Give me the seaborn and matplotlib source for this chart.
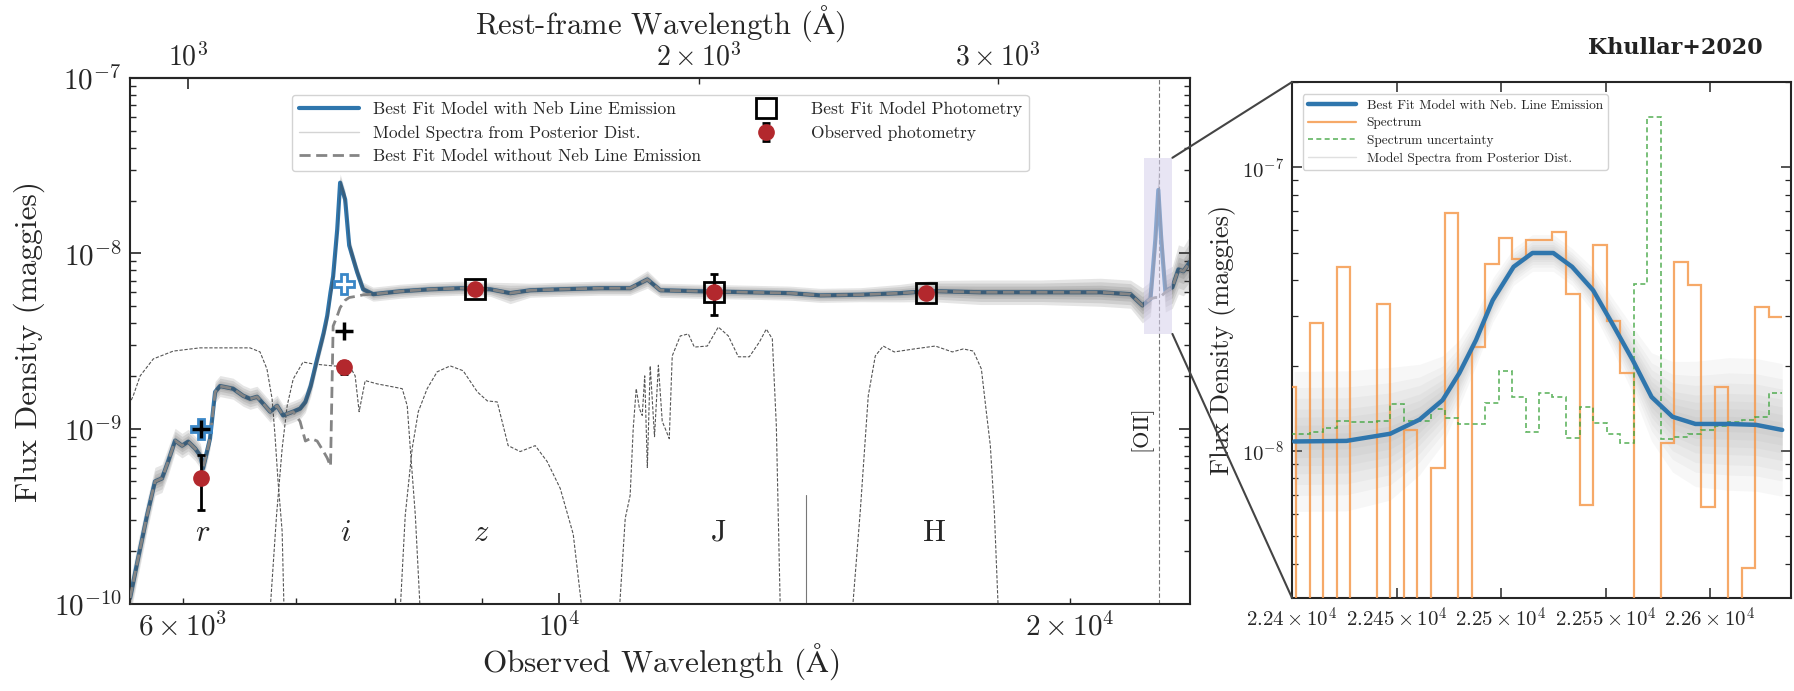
import numpy as np
import pandas as pd
import seaborn as sns
import matplotlib.pyplot as plt
from matplotlib.lines import Line2D
from matplotlib.patches import Rectangle, ConnectionPatch
from matplotlib.ticker import FixedLocator, FixedFormatter, NullLocator

# Redshift used to convert observed to rest-frame wavelength
redshift = 5.045

# Best fit SED (observed wavelength in A, flux density in maggies)
model_wave = [5587, 5648, 5717, 5779, 5834, 5883, 5939, 5995, 6045, 6103,
              6146, 6168, 6227, 6270, 6312, 6425, 6513, 6575, 6637, 6692,
              6756, 6820, 6876, 6970, 7036, 7087, 7138, 7201, 7264, 7300,
              7333, 7359, 7400, 7429, 7480, 7521, 7603, 7664, 7769, 8060,
              8395, 8742, 9106, 9357, 9615, 10014, 10573, 11011, 11270, 11470,
              12108, 12958, 13680, 14249, 15043, 15880, 16545, 17707, 19206, 20836,
              21704, 22058, 22300, 22450, 22540, 22630, 22755, 22972, 23163, 23318,
              23541]
model_flux = [1.08e-10, 1.82e-10, 3.2e-10, 5.0e-10, 5.2e-10, 6.5e-10, 8.55e-10, 8.0e-10, 8.43e-10, 7.7e-10,
              7.0e-10, 5.93e-10, 8.77e-10, 1.62e-9, 1.75e-9, 1.69e-9, 1.54e-9, 1.48e-9, 1.52e-9, 1.39e-9,
              1.25e-9, 1.35e-9, 1.19e-9, 1.25e-9, 1.30e-9, 1.42e-9, 1.75e-9, 2.5e-9, 3.5e-9, 4.4e-9,
              6.0e-9, 7.4e-9, 1.37e-8, 2.53e-8, 2.03e-8, 1.11e-8, 7.8e-9, 6.24e-9, 5.85e-9, 6.08e-9,
              6.24e-9, 6.33e-9, 6.24e-9, 5.93e-9, 6.16e-9, 6.24e-9, 6.33e-9, 6.33e-9, 7.1e-9, 6.16e-9,
              6.08e-9, 6.0e-9, 5.93e-9, 5.76e-9, 5.81e-9, 5.93e-9, 6.1e-9, 6.0e-9, 6.0e-9, 6.0e-9,
              5.85e-9, 5.05e-9, 5.5e-9, 1.2e-8, 2.3e-8, 1.2e-8, 6.1e-9, 6.4e-9, 8.1e-9, 7.9e-9,
              9.0e-9]
model_flux_noneb = [1.08e-10, 1.82e-10, 3.2e-10, 5.0e-10, 5.2e-10, 6.5e-10, 8.55e-10, 8.0e-10, 8.43e-10, 7.7e-10,
                    7.0e-10, 5.93e-10, 8.77e-10, 1.62e-9, 1.75e-9, 1.69e-9, 1.54e-9, 1.48e-9, 1.52e-9, 1.39e-9,
                    1.25e-9, 1.35e-9, 1.19e-9, 1.25e-9, 1.10e-9, 8.5e-10, 8.8e-10, 8.5e-10, 7.4e-10, 6.8e-10,
                    6.1e-10, 3.85e-9, 4.4e-9, 4.9e-9, 5.4e-9, 5.6e-9, 5.7e-9, 5.8e-9, 5.85e-9, 6.08e-9,
                    6.24e-9, 6.33e-9, 6.24e-9, 5.93e-9, 6.16e-9, 6.24e-9, 6.33e-9, 6.33e-9, 7.1e-9, 6.16e-9,
                    6.08e-9, 6.0e-9, 5.93e-9, 5.76e-9, 5.81e-9, 5.93e-9, 6.1e-9, 6.0e-9, 6.0e-9, 6.0e-9,
                    5.85e-9, 5.05e-9, 5.5e-9, 5.6e-9, 5.6e-9, 5.7e-9, 6.0e-9, 6.4e-9, 8.1e-9, 7.9e-9,
                    9.0e-9]
# half-width (dex) of the posterior model spectra around the best fit
model_spread = [0.10, 0.10, 0.09, 0.08, 0.08, 0.08, 0.07, 0.07, 0.07, 0.07,
                0.07, 0.07, 0.06, 0.06, 0.06, 0.06, 0.06, 0.06, 0.06, 0.06,
                0.06, 0.06, 0.06, 0.06, 0.06, 0.06, 0.06, 0.05, 0.05, 0.05,
                0.05, 0.05, 0.05, 0.05, 0.05, 0.05, 0.04, 0.04, 0.04, 0.04,
                0.04, 0.04, 0.04, 0.06, 0.04, 0.04, 0.04, 0.04, 0.05, 0.04,
                0.04, 0.04, 0.04, 0.04, 0.04, 0.05, 0.06, 0.07, 0.07, 0.08,
                0.08, 0.10, 0.10, 0.12, 0.12, 0.12, 0.12, 0.12, 0.14, 0.14,
                0.15]

# Photometry
phot_wave = [6150, 7473, 8924, 12337, 16437]
phot_flux = [5.25e-10, 2.24e-9, 6.3e-9, 6.05e-9, 5.93e-9]
phot_err = [1.8e-10, 2.0e-10, 3.0e-10, 1.6e-9, 3.0e-10]
model_phot_wave = [8924, 12337, 16437]
model_phot_flux = [6.3e-9, 6.05e-9, 5.93e-9]
neb_phot_wave = [6150, 7473]
neb_phot_flux = [1.0e-9, 6.66e-9]
noneb_phot_flux = [1.0e-9, 3.62e-9]

# Filter transmission curves (scaled into flux units)
filt_r_wave = [5580, 5611, 5664, 5766, 5924, 6142, 6574, 6664, 6727, 6774, 6801, 6829, 6867, 6885]
filt_r_flux = [1.37e-9, 1.54e-9, 2.0e-9, 2.5e-9, 2.77e-9, 2.89e-9, 2.89e-9, 2.74e-9, 2.19e-9, 1.48e-9,
               9.12e-10, 5.0e-10, 2.6e-10, 9e-11]
filt_i_wave = [6755, 6815, 6867, 6914, 6971, 7065, 7161, 7358, 7530, 7582, 7623, 7686, 7813, 7985,
               8082, 8137, 8171, 8227, 8282]
filt_i_flux = [9e-11, 3.2e-10, 7.7e-10, 1.35e-9, 1.92e-9, 2.4e-9, 2.34e-9, 2.28e-9, 2.25e-9, 2.0e-9,
               1.25e-9, 1.88e-9, 1.8e-9, 1.73e-9, 1.69e-9, 1.35e-9, 7.7e-10, 3.2e-10, 9e-11]
filt_z_wave = [8059, 8115, 8192, 8260, 8360, 8474, 8626, 8778, 8949, 9071, 9194, 9331, 9484, 9680,
               9838, 10014, 10192, 10318]
filt_z_flux = [9e-11, 3.2e-10, 7.7e-10, 1.25e-9, 1.69e-9, 2.11e-9, 2.28e-9, 2.14e-9, 1.62e-9, 1.44e-9,
               1.42e-9, 8.0e-10, 7.4e-10, 8.0e-10, 6.49e-10, 4.56e-10, 2.5e-10, 9e-11]
filt_J_wave = [10849, 10937, 11010, 11056, 11101, 11150, 11192, 11230, 11270, 11314, 11380, 11440,
               11500, 11547, 11610, 11657, 11785, 11914, 12012, 12225, 12409, 12579, 12751, 12942,
               13120, 13244, 13352, 13425, 13498]
filt_J_flux = [9e-11, 3.08e-10, 4.16e-10, 1.0e-9, 1.69e-9, 1.3e-9, 1.19e-9, 2.0e-9, 6.0e-10, 2.28e-9,
               9.0e-10, 2.3e-9, 1.1e-9, 1.0e-9, 8.77e-10, 2.6e-9, 3.38e-9, 3.47e-9, 2.92e-9, 2.96e-9,
               3.8e-9, 3.38e-9, 2.57e-9, 2.57e-9, 3.12e-9, 3.7e-9, 3.25e-9, 1.04e-9, 9e-11]
filt_H_wave = [14882, 15044, 15208, 15354, 15520, 15754, 16187, 16656, 17045, 17302, 17539, 17730,
               17849, 17947, 18044, 18143]
filt_H_flux = [9e-11, 3.38e-10, 1.54e-9, 2.6e-9, 2.96e-9, 2.74e-9, 2.85e-9, 2.96e-9, 2.74e-9, 2.85e-9,
               2.77e-9, 2.19e-9, 1.25e-9, 8.0e-10, 3.38e-10, 9e-11]
spike_wave = [13982, 13982]
spike_flux = [9e-11, 4.2e-10]

filter_names = ["$r$", "$i$", "$z$", "J", "H"]
filter_label_wave = [6168, 7481, 8995, 12409, 16634]
filter_label_flux = 2.53e-10

oii_wave = 22570
zoom_box_wave = [22118, 22975]
zoom_box_flux = [3.47e-9, 3.51e-8]

# Zoom panel: [OII] region
zoom_wave = [22401, 22426, 22447, 22461, 22472, 22480, 22488, 22496, 22506, 22515, 22525,
             22534, 22544, 22553, 22563, 22572, 22582, 22593, 22609, 22622, 22634.5]
zoom_flux = [1.08e-8, 1.085e-8, 1.15e-8, 1.29e-8, 1.51e-8, 1.88e-8, 2.46e-8, 3.40e-8, 4.46e-8,
             4.99e-8, 4.99e-8, 4.46e-8, 3.69e-8, 2.83e-8, 2.09e-8, 1.55e-8, 1.32e-8, 1.245e-8,
             1.245e-8, 1.236e-8, 1.186e-8]
zoom_spread = [0.19, 0.19, 0.18, 0.15, 0.12, 0.09, 0.07, 0.06, 0.05, 0.05, 0.05,
               0.05, 0.06, 0.07, 0.09, 0.12, 0.15, 0.17, 0.18, 0.18, 0.18]

spec_edges = [22395.4, 22401.9, 22408.4, 22414.8, 22421.3, 22427.7, 22434.2, 22440.7, 22447.1,
              22453.6, 22460.0, 22466.5, 22473.0, 22479.4, 22485.9, 22492.3, 22498.8, 22505.3,
              22511.7, 22518.2, 22524.6, 22531.1, 22537.6, 22544.0, 22550.5, 22556.9, 22563.4,
              22569.9, 22576.3, 22582.8, 22589.2, 22595.7, 22602.2, 22608.6, 22615.1, 22621.5,
              22628.0, 22634.5]
spec_flux = [1.68e-8, 1e-9, 2.82e-8, 1e-9, 4.46e-8, 1e-9, 1e-9, 3.29e-8, 1e-9, 1.186e-8,
             1e-9, 8.68e-9, 6.92e-8, 1e-9, 2.33e-8, 4.58e-8, 5.65e-8, 4.74e-8, 5.55e-8, 5.55e-8,
             5.92e-8, 3.57e-8, 6.45e-9, 5.34e-8, 2.88e-8, 1.88e-8, 1e-9, 1e-9, 1.07e-8, 4.65e-8,
             3.85e-8, 6.34e-9, 1.68e-8, 1e-9, 3.86e-9, 3.22e-8, 2.97e-8]
spec_unc = [1.15e-8, 1.15e-8, 1.17e-8, 1.20e-8, 1.28e-8, 1.26e-8, 1.26e-8, 1.28e-8, 1.46e-8, 1.28e-8,
            1.28e-8, 1.41e-8, 1.31e-8, 1.24e-8, 1.24e-8, 1.48e-8, 1.91e-8, 1.55e-8, 1.17e-8, 1.60e-8,
            1.55e-8, 1.11e-8, 1.43e-8, 1.25e-8, 1.15e-8, 1.07e-8, 3.89e-8, 1.50e-7, 1.10e-8, 1.12e-8,
            1.15e-8, 1.19e-8, 1.22e-8, 1.26e-8, 1.29e-8, 1.32e-8, 1.60e-8]
zoom_xticks = [22400, 22450, 22500, 22550, 22600]
zoom_xticklabels = [r"$2.24\times10^{4}$", r"$2.245\times10^{4}$", r"$2.25\times10^{4}$",
                    r"$2.255\times10^{4}$", r"$2.26\times10^{4}$"]

# Style
sns.set_style("ticks")
plt.rcParams["font.family"] = ["cmr10", "DejaVu Serif"]
plt.rcParams["mathtext.fontset"] = "cm"
plt.rcParams["axes.formatter.use_mathtext"] = True
plt.rcParams["axes.linewidth"] = 1.5

blue = "#2f76ad"
fig = plt.figure(figsize=(17.94, 6.91), dpi=100)
ax = fig.add_axes([0.0725, 0.126, 0.591, 0.761])
ax2 = fig.add_axes([0.7202, 0.1346, 0.278, 0.7467])

# ---------------- main panel ----------------
ax.set_xscale("log")
ax.set_yscale("log")

for fw, ff in [(filt_r_wave, filt_r_flux), (filt_i_wave, filt_i_flux), (filt_z_wave, filt_z_flux),
               (filt_J_wave, filt_J_flux), (filt_H_wave, filt_H_flux)]:
    sns.lineplot(x=fw, y=ff, ax=ax, color="#555555", lw=0.8, linestyle=(0, (3, 1.5)),
                 sort=False, estimator=None, zorder=1)
sns.lineplot(x=spike_wave, y=spike_flux, ax=ax, color="#777777", lw=0.8,
             sort=False, estimator=None, zorder=1)
ax.axvline(oii_wave, color="#777777", lw=0.8, linestyle=(0, (4, 2)), zorder=1)

sns.lineplot(x=model_wave, y=model_flux, ax=ax, color=blue, lw=3,
             sort=False, estimator=None, zorder=2)
h_model = ax.get_lines()[-1]

mw = np.array(model_wave)
mf = np.array(model_flux)
ms = np.array(model_spread)
for k in [1.0, 0.75, 0.5, 0.3, 0.15]:
    ax.fill_between(mw, mf * 10 ** (-ms * k), mf * 10 ** (ms * k), color="#4a4a4a",
                    alpha=0.14, lw=0, zorder=3)

sns.lineplot(x=model_wave, y=model_flux_noneb, ax=ax, color="#858585", lw=2,
             linestyle=(0, (4, 2)), sort=False, estimator=None, zorder=4)
h_noneb = ax.get_lines()[-1]

h_err = ax.errorbar(phot_wave, phot_flux, yerr=phot_err, fmt="o", color="#b3282d", ms=11,
                    ecolor="k", elinewidth=2, capsize=3, capthick=2, zorder=6)
h_sq, = ax.plot(model_phot_wave, model_phot_flux, "s", ms=14, mfc="none", mec="k", mew=2, zorder=7)
ax.plot(neb_phot_wave, neb_phot_flux, "P", ms=15, mfc="white", mec="#3a87c8", mew=2, zorder=7)
ax.plot(neb_phot_wave, noneb_phot_flux, "+", ms=13, mew=2.5, color="k", zorder=8)

ax.add_patch(Rectangle((zoom_box_wave[0], zoom_box_flux[0]), zoom_box_wave[1] - zoom_box_wave[0],
                       zoom_box_flux[1] - zoom_box_flux[0], facecolor="#d6d0ec", alpha=0.55,
                       edgecolor="none", zorder=6))

for name, fwl in zip(filter_names, filter_label_wave):
    ax.text(fwl, filter_label_flux, name, ha="center", va="center", fontsize=22)
ax.text(22030, 1.01e-9, "[OII]", rotation=90, ha="center", va="center", fontsize=16)

ax.set_xlim(5587, 23540)
ax.set_ylim(1e-10, 1e-7)
ax.set_xlabel(r"Observed Wavelength ($\mathrm{\AA}$)", fontsize=22.5, labelpad=0)
ax.set_ylabel("Flux Density (maggies)", fontsize=22.5, labelpad=6)
ax.tick_params(which="both", direction="in", right=True, top=False, labelsize=21, pad=6)
ax.tick_params(which="major", length=8, width=1.2)
ax.tick_params(which="minor", length=4, width=1.0)

secax = ax.secondary_xaxis("top", functions=(lambda x: x / (1 + redshift),
                                              lambda x: x * (1 + redshift)))
secax.tick_params(which="both", direction="in", labelsize=20, pad=5)
secax.tick_params(which="major", length=8, width=1.2)
secax.tick_params(which="minor", length=4, width=1.0)
secax.set_xlabel(r"Rest-frame Wavelength ($\mathrm{\AA}$)", fontsize=22, labelpad=6)

post_proxy = Line2D([], [], color="#d4d4d4", lw=1)
ax.legend([h_model, post_proxy, h_noneb, h_sq, h_err],
          ["Best Fit Model with Neb Line Emission", "Model Spectra from Posterior Dist.",
           "Best Fit Model without Neb Line Emission", "Best Fit Model Photometry",
           "Observed photometry"],
          ncol=2, loc="upper center", bbox_to_anchor=(0.5, 0.985), fontsize=12.5,
          handlelength=3.5, columnspacing=2.0, labelspacing=0.45, frameon=True,
          framealpha=0.85, edgecolor="#cccccc", fancybox=True)

# ---------------- zoom panel ----------------
ax2.set_yscale("log")
zw = np.array(zoom_wave)
zf = np.array(zoom_flux)
zs = np.array(zoom_spread)
for k in [1.3, 1.0, 0.8, 0.6, 0.45, 0.3, 0.15]:
    ax2.fill_between(zw, zf * 10 ** (-zs * k), zf * 10 ** (zs * k), color="#808080",
                     alpha=0.06, lw=0, zorder=2)

h_spec = ax2.stairs(spec_flux, spec_edges, color="#f59a4e", lw=1.6, alpha=0.85,
                    baseline=None, zorder=3)
h_unc = ax2.stairs(spec_unc, spec_edges, color="#3aa33a", lw=1.2, alpha=0.8,
                   linestyle=(0, (3, 2)), baseline=None, zorder=4)
sns.lineplot(x=zoom_wave, y=zoom_flux, ax=ax2, color=blue, lw=3.2,
             sort=False, estimator=None, zorder=5)
h_zmodel = ax2.get_lines()[-1]

ax2.set_xlim(22400, 22638.6)
ax2.set_ylim(3.03e-9, 2.0e-7)
ax2.xaxis.set_major_locator(FixedLocator(zoom_xticks))
ax2.xaxis.set_major_formatter(FixedFormatter(zoom_xticklabels))
ax2.xaxis.set_minor_locator(NullLocator())
ax2.set_ylabel("Flux Density (maggies)", fontsize=19, labelpad=4)
ax2.tick_params(which="both", direction="in", top=True, right=True, labelsize=15, pad=6)
ax2.tick_params(which="major", length=7, width=1.1)
ax2.tick_params(which="minor", length=4, width=0.9)

spec_line = Line2D([], [], color="#f59a4e", lw=1.6, alpha=0.85)
unc_line = Line2D([], [], color="#3aa33a", lw=1.2, alpha=0.8, linestyle=(0, (3, 2)))
post_proxy2 = Line2D([], [], color="#e0e0e0", lw=1)
ax2.legend([h_zmodel, spec_line, unc_line, post_proxy2],
           ["Best Fit Model with Neb. Line Emission", "Spectrum", "Spectrum uncertainty",
            "Model Spectra from Posterior Dist."],
           loc="upper left", bbox_to_anchor=(0.008, 0.99), fontsize=9.6, handlelength=3.6,
           labelspacing=0.4, frameon=True, framealpha=0.85, edgecolor="#cccccc")

# connector lines from the shaded box to the zoom panel
for yb, yz in [(zoom_box_flux[1], 1), (zoom_box_flux[0], 0)]:
    con = ConnectionPatch(xyA=(zoom_box_wave[1], yb), coordsA=ax.transData,
                          xyB=(0, yz), coordsB=ax2.transAxes, color="#444444", lw=1.5)
    fig.add_artist(con)

fig.text(0.9337, 0.9305, "Khullar+2020", family="DejaVu Serif", weight="bold",
         fontsize=16, ha="center", va="center", color="#222222")

fig.savefig("out.png", dpi=100)
